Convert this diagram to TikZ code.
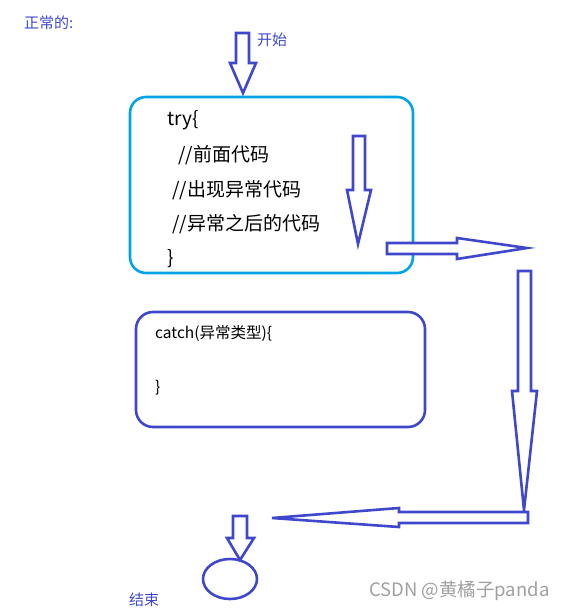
\documentclass[tikz,border=0pt]{standalone}
\usepackage{fontspec}
\setmainfont{Noto Sans CJK SC}
\newfontfamily\cjk{Noto Sans CJK SC}
\definecolor{indigo}{RGB}{63,72,204}
\definecolor{turq}{RGB}{0,162,232}
\definecolor{wm}{RGB}{160,160,160}
\begin{document}
\begin{tikzpicture}[x=1pt,y=-1pt,
  blockarrow/.style={draw=indigo,line width=2.6pt,line join=miter,fill=white},
  lbl/.style={text=indigo,font=\cjk\fontsize{15}{17}\selectfont,inner sep=0pt,anchor=west},
  code/.style={text=black,font=\cjk\fontsize{19}{21}\selectfont,inner sep=0pt,anchor=west},
  ccode/.style={text=black,font=\cjk\fontsize{15.5}{17}\selectfont,inner sep=0pt,anchor=west}]
\useasboundingbox (0,0) rectangle (570,610);
% labels
\node[lbl] (normal) at (24,23) {正常的:};
\node[lbl] (start) at (257,40) {开始};
\node[lbl] (endl) at (129,600) {结束};
\node[text=wm,font=\cjk\fontsize{18.5}{20}\selectfont,inner sep=0pt,anchor=west] (wmark) at (369,591) {CSDN @黄橘子panda};
% try box
\draw[turq,line width=2.6pt,rounded corners=16pt] (130,97) rectangle (413,273);
\node[code] (try) at (167,120) {try\{};
\node[code] (l1) at (178,155) {//前面代码};
\node[code] (l2) at (172,190) {//出现异常代码};
\node[code] (l3) at (172,224) {//异常之后的代码};
\node[code] (l4) at (167,259) {\}};
% catch box
\draw[indigo,line width=2.6pt,rounded corners=17pt] (136,312) rectangle (425,427);
\node[ccode] (c1) at (155,333) {catch(异常类型)\{};
\node[ccode] (c2) at (155,388) {\}};
% end ellipse
\draw[indigo,line width=2.6pt] (230,579) ellipse [x radius=27,y radius=20];
% block arrows
\draw[blockarrow] (236,33) -- (249,33) -- (249,63) -- (256,63) -- (243,93) -- (230,63) -- (236,63) -- cycle;
\draw[blockarrow] (353,136) -- (365,136) -- (365,190) -- (371,190) -- (358,244) -- (347,190) -- (353,190) -- cycle;
\draw[blockarrow] (387,243) -- (457,243) -- (457,238) -- (527,248) -- (457,259) -- (457,254) -- (387,254) -- cycle;
\draw[blockarrow] (518,271) -- (531,271) -- (531,391) -- (537,391) -- (524,510) -- (512,391) -- (518,391) -- cycle;
\draw[blockarrow] (528,512) -- (528,523) -- (399,523) -- (399,527) -- (272,518) -- (399,508) -- (399,512) -- cycle;
\draw[blockarrow] (233,516) -- (247,516) -- (247,538) -- (254,538) -- (240,560) -- (227,538) -- (233,538) -- cycle;
\end{tikzpicture}
\end{document}
